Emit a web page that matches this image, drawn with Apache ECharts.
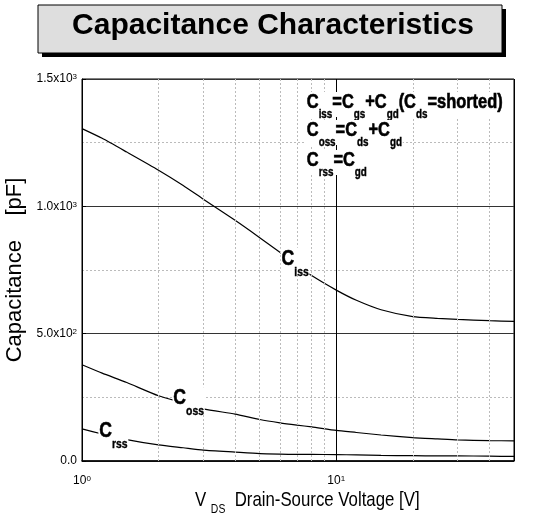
<!DOCTYPE html>
<html>
<head>
<meta charset="utf-8">
<script src="https://cdn.jsdelivr.net/npm/echarts@6/dist/echarts.min.js"></script>
<style>
  html, body { margin: 0; padding: 0; background: #fff; }
  #chart { width: 549px; height: 528px; }
</style>
</head>
<body>
<div id="chart"></div>
<script>
// Capacitance characteristics
const vds = [1, 1.2, 1.5, 2, 2.5, 3, 4, 5, 6, 7, 8, 10, 12, 15, 20, 25, 30, 40, 50];
const ciss = [1305, 1267, 1213, 1142, 1082, 1028, 945, 877, 820, 770, 728, 671, 631, 594, 567, 560, 556, 551, 548];
const coss = [378, 345, 308, 256, 228, 205, 184, 163, 150, 141, 134, 120, 112, 102, 92, 87, 83, 80, 79];
const crss = [126, 106, 84, 63, 52, 43, 35, 29, 27, 26, 26, 25, 24, 22, 21, 20, 20, 19, 18];

const minorX = [2, 3, 4, 5, 6, 7, 8, 9, 20, 30, 40];
const yTickLabels = { 0: '0.0', 500: '5.0x10{sup|2}', 1000: '1.0x10{sup|3}', 1500: '1.5x10{sup|3}' };

const sans = '"Liberation Sans", Arial, sans-serif';

function pairs(ys) {
  return vds.map((v, i) => [v, ys[i]]);
}

function curve(name, ys) {
  return {
    name: name,
    type: 'line',
    data: pairs(ys),
    smooth: 0.2,
    showSymbol: false,
    silent: true,
    lineStyle: { color: '#000', width: 1.2 },
    z: 3
  };
}

let myChart = echarts.init(document.getElementById('chart'));
let option = {
  animation: false,
  backgroundColor: '#fff',
  grid: {
    left: 82, right: 35, top: 79, bottom: 67,
    show: true, borderColor: '#000', borderWidth: 1,
    outerBoundsMode: 'none'
  },
  xAxis: {
    type: 'log',
    logBase: 10,
    min: 1,
    max: 50,
    axisLine: { show: true, lineStyle: { color: '#000', width: 1.5 } },
    axisTick: { show: false },
    axisLabel: {
      margin: 14,
      showMaxLabel: false,
      formatter: function (v) {
        const p = Math.round(Math.log10(v));
        if (Math.abs(Math.log10(v) - p) > 1e-6) return '';
        return '10{sup|' + p + '}';
      },
      fontFamily: sans, fontSize: 12, color: '#000',
      rich: {
        sup: { fontFamily: sans, fontSize: 8, color: '#000', verticalAlign: 'top', lineHeight: 8 }
      }
    },
    splitLine: { show: true, lineStyle: { color: '#000', width: 1 } }
  },
  yAxis: {
    type: 'value',
    min: 0,
    max: 1500,
    interval: 500,
    name: 'Capacitance    [pF]',
    nameLocation: 'middle',
    nameGap: 43,
    nameTextStyle: { fontFamily: sans, fontSize: 22, color: '#000' },
    axisLine: { show: true, lineStyle: { color: '#000', width: 1 } },
    axisTick: { show: true, inside: true, length: 4, lineStyle: { color: '#000' } },
    axisLabel: {
      margin: 5,
      formatter: function (v) { return yTickLabels[v]; },
      fontFamily: sans, fontSize: 12, color: '#000',
      rich: {
        sup: { fontFamily: sans, fontSize: 8, color: '#000', verticalAlign: 'top', lineHeight: 8 }
      }
    },
    splitLine: { show: true, lineStyle: { color: '#333', width: 1 } },
    minorTick: { show: false, splitNumber: 2 },
    minorSplitLine: { show: true, lineStyle: { color: '#bbb', type: [2, 2], width: 1 } }
  },
  series: [
    {
      type: 'line',
      data: [],
      silent: true,
      markLine: {
        silent: true,
        symbol: 'none',
        label: { show: false },
        lineStyle: { color: '#bbb', type: [2, 2], width: 1 },
        data: minorX.map(v => ({ xAxis: v }))
      },
      z: 1
    },
    curve('Ciss', ciss),
    curve('Coss', coss),
    curve('Crss', crss)
  ]
};
myChart.setOption(option);

// big "C" with a lowered subscript, drawn heavy and condensed like the datasheet
function capRich(big, small, drop) {
  return {
    c: { fontSize: big, fontWeight: 'bold', fontFamily: sans, lineHeight: big + 1, verticalAlign: 'top', fill: '#000', stroke: '#000', lineWidth: 0.6 },
    s: { fontSize: small, fontWeight: 'bold', fontFamily: sans, lineHeight: small, verticalAlign: 'top', padding: [drop, 0, 0, 0], fill: '#000', stroke: '#000', lineWidth: 0.4 }
  };
}

function textAt(x, y, text, rich, sx) {
  return {
    type: 'text', x: x, y: y, scaleX: sx, z: 12,
    style: {
      text: text, rich: rich,
      align: 'left', verticalAlign: 'top', textAlign: 'left', textVerticalAlign: 'top',
      backgroundColor: '#fff', padding: [0, 1, 4, 1]
    }
  };
}

// curve labels: left/top corner of the "C" in data coordinates
function curveLabel(coord, sub) {
  const p = myChart.convertToPixel({ gridIndex: 0 }, coord);
  return textAt(p[0], p[1] - 4, '{c|C}{s|' + sub + '}', capRich(22, 13, 18), 0.8);
}

const legendRich = capRich(20, 12, 17);
const legendX = myChart.convertToPixel({ gridIndex: 0 }, [7.6, 1500])[0];

myChart.setOption({
  graphic: [
    { type: 'rect', shape: { x: 42, y: 9, width: 464, height: 48 }, style: { fill: '#000' }, z: 10 },
    { type: 'rect', shape: { x: 38, y: 5, width: 464, height: 48 }, style: { fill: '#dedede', stroke: '#000', lineWidth: 1 }, z: 11 },
    {
      type: 'text', x: 273, y: 26, z: 12,
      style: {
        text: 'Capacitance Characteristics',
        fontFamily: sans, fontSize: 30, fontWeight: 'bold', fill: '#000',
        align: 'center', verticalAlign: 'middle', textAlign: 'center', textVerticalAlign: 'middle'
      }
    },
    textAt(legendX, 92, '{c|C}{s|iss}{c|=C}{s|gs}{c|+C}{s|gd}{c|(C}{s|ds}{c|=shorted)}', legendRich, 0.82),
    textAt(legendX, 120, '{c|C}{s|oss}{c|=C}{s|ds}{c|+C}{s|gd}', legendRich, 0.82),
    textAt(legendX, 150, '{c|C}{s|rss}{c|=C}{s|gd}', legendRich, 0.82),
    curveLabel([6.05, 822], 'iss'),
    curveLabel([2.27, 274], 'oss'),
    curveLabel([1.16, 147], 'rss'),
    {
      type: 'text', x: 195, y: 490, scaleX: 0.8, z: 12,
      style: {
        text: '{v|V }{s|DS}{v|  Drain-Source Voltage [V]}',
        align: 'left', verticalAlign: 'top', textAlign: 'left', textVerticalAlign: 'top',
        rich: {
          v: { fontSize: 21, fontFamily: sans, lineHeight: 22, verticalAlign: 'top', fill: '#000' },
          s: { fontSize: 13, fontFamily: sans, lineHeight: 13, verticalAlign: 'top', padding: [13, 0, 0, 0], fill: '#000' }
        }
      }
    }
  ]
});
</script>
</body>
</html>
